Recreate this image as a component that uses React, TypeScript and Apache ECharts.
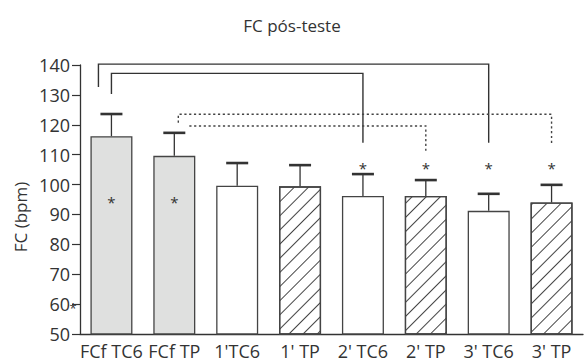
import React, { useEffect, useRef } from "react";
import * as echarts from "echarts";

const title = "FC pós-teste";
const yAxisName = "FC (bpm)";
const categories = ["FCf TC6", "FCf TP", "1'TC6", "1' TP", "2' TC6", "2' TP", "3' TC6", "3' TP"];
const means = [116.2, 109.6, 99.6, 99.4, 96.2, 96.2, 91.2, 94.0];
const upperErrors = [123.6, 117.3, 107.2, 106.5, 103.5, 101.5, 96.9, 99.9];
const groups = ["final", "final", "TC6", "TP", "TC6", "TP", "TC6", "TP"];
const starCategories = [0, 1, 4, 5, 6, 7];
const starValues = [95.2, 95.2, 106.5, 106.5, 106.5, 106.5];
// brackets: from category, to category, top value, left leg end value, right leg end value
const bracketFrom = [0, 0, 1, 1];
const bracketTo = [6, 4, 7, 5];
const bracketTop = [140.3, 137.2, 123.5, 119.6];
const bracketLeftEnd = [132.6, 130.3, 120.7, 119.6];
const bracketRightEnd = [114.0, 114.0, 113.2, 111.0];
const bracketDashed = [false, false, true, true];
const yMin = 50;
const yMax = 140;
const yInterval = 10;

// pixel offsets of bracket left legs (style only)
const bracketLeftOffset = [-13, 0, 4, 15];

const FONT = "'Open Sans', 'Noto Sans', sans-serif";
const INK = "#333";

export default function App() {
  const ref = useRef<HTMLDivElement>(null);
  useEffect(() => {
    if (!ref.current) return;
    const chart = echarts.init(ref.current, undefined, { renderer: "svg" });
    const barData = means.map((v, i) => {
      const g = groups[i];
      const itemStyle: any = {
        color: g === "final" ? "#dfe0df" : "#ffffff",
        borderColor: "#444",
        borderWidth: 1.3,
      };
      if (g === "TP") {
        itemStyle.decal = {
          symbol: "rect",
          symbolSize: 1,
          dashArrayX: [1, 0],
          dashArrayY: [0.8, 8.8],
          rotation: -Math.PI / 4,
          color: "#444",
          backgroundColor: "#ffffff",
        };
      }
      return { value: v, itemStyle };
    });
    const option: any = {
      animation: false,
      title: {
        text: title,
        left: "center",
        top: 12,
        textStyle: { fontFamily: FONT, fontSize: 17, fontWeight: "normal", color: INK },
      },
      grid: { left: 80, right: 1, top: 65, bottom: 29, containLabel: false },
      xAxis: {
        type: "category",
        data: categories,
        boundaryGap: true,
        axisLine: { lineStyle: { color: INK, width: 1.3 } },
        axisTick: { alignWithLabel: true, length: 6, lineStyle: { color: INK, width: 1.2 } },
        axisLabel: { fontFamily: FONT, fontSize: 18, color: INK, margin: 8, interval: 0, lineHeight: 18 },
      },
      yAxis: {
        type: "value",
        min: yMin,
        max: yMax,
        interval: yInterval,
        axisLine: { show: true, lineStyle: { color: INK, width: 1.3 } },
        axisTick: { show: true, length: 8, lineStyle: { color: INK, width: 1.2 } },
        axisLabel: { fontFamily: FONT, fontSize: 18, color: INK, margin: 10 },
        splitLine: { show: false },
      },
      graphic: [
        {
          type: "text",
          x: 20,
          y: 217,
          rotation: Math.PI / 2,
          style: {
            text: yAxisName,
            font: `17px ${FONT}`,
            fill: INK,
            textAlign: "center",
            textVerticalAlign: "middle",
          },
        },
        {
          type: "text",
          x: 73,
          y: 308,
          style: { text: "*", font: `13px ${FONT}`, fill: INK, textAlign: "center", textVerticalAlign: "middle" },
        },
      ],
      series: [
        {
          type: "bar",
          data: barData,
          barWidth: 42,
          z: 2,
        },
        {
          type: "custom",
          z: 3,
          data: means.map((m, i) => [i, m, upperErrors[i]]),
          renderItem: (params: any, api: any) => {
            const x = api.value(0);
            const top = api.coord([x, api.value(1)]);
            const cap = api.coord([x, api.value(2)]);
            return {
              type: "group",
              children: [
                { type: "line", shape: { x1: top[0], y1: top[1], x2: cap[0], y2: cap[1] }, style: { stroke: INK, lineWidth: 1.3 } },
                { type: "line", shape: { x1: cap[0] - 11, y1: cap[1], x2: cap[0] + 11, y2: cap[1] }, style: { stroke: INK, lineWidth: 2.6 } },
              ],
            };
          },
        },
        {
          type: "custom",
          z: 3,
          data: starCategories.map((c, i) => [c, starValues[i]]),
          renderItem: (params: any, api: any) => {
            const p = api.coord([api.value(0), api.value(1)]);
            return {
              type: "text",
              x: p[0],
              y: p[1] + 3,
              style: { text: "*", font: `15px ${FONT}`, fill: INK, textAlign: "center", textVerticalAlign: "middle" },
            };
          },
        },
        {
          type: "custom",
          z: 3,
          data: bracketFrom.map((f, i) => [f, bracketTo[i], bracketTop[i], bracketLeftEnd[i], bracketRightEnd[i], i]),
          renderItem: (params: any, api: any) => {
            const idx = api.value(5);
            const dashed = bracketDashed[idx];
            const off = bracketLeftOffset[idx];
            const lt = api.coord([api.value(0), api.value(2)]);
            const lb = api.coord([api.value(0), api.value(3)]);
            const rt = api.coord([api.value(1), api.value(2)]);
            const rb = api.coord([api.value(1), api.value(4)]);
            return {
              type: "polyline",
              shape: {
                points: [
                  [lb[0] + off, lb[1]],
                  [lt[0] + off, lt[1]],
                  [rt[0], rt[1]],
                  [rb[0], rb[1]],
                ],
              },
              style: {
                stroke: dashed ? "#444" : "#333",
                lineWidth: 1.4,
                fill: "none",
                lineDash: dashed ? [2.2, 2.6] : null,
              },
            };
          },
        },
      ],
    };
    chart.setOption(option);
    return () => chart.dispose();
  }, []);
  return (
    <div
      ref={ref}
      style={{ position: "fixed", left: 0, top: 0, width: 584, height: 363, background: "#fff" }}
    />
  );
}
